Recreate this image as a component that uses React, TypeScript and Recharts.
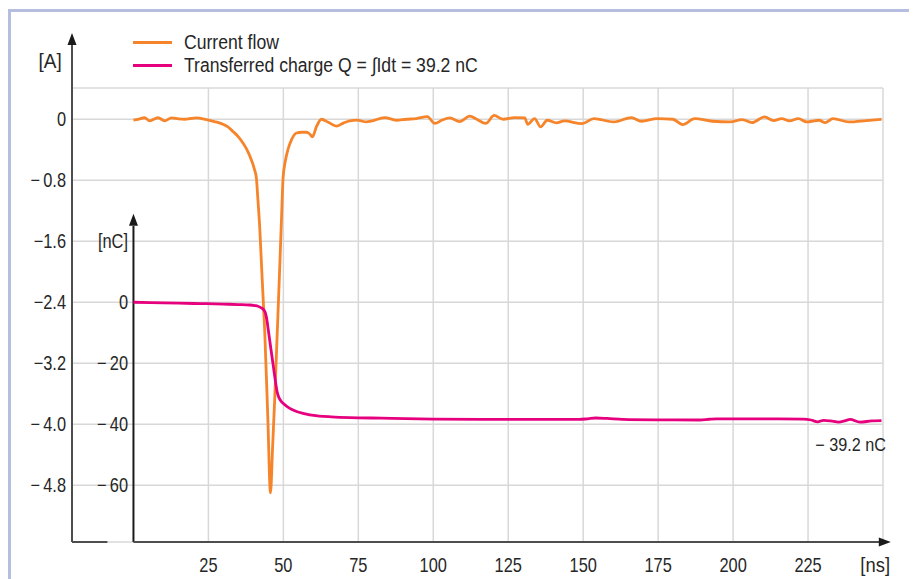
import React from 'react';
import {
  LineChart,
  Line,
  XAxis,
  YAxis,
  CartesianGrid,
  ReferenceLine,
  ReferenceDot,
  Legend,
} from 'recharts';

// ---------- data ----------
const currentTime = [
  0, 1.5, 3.7, 5.4, 8.2, 10.4, 12.7, 15, 17.1, 19, 21, 24.3, 27, 29.5, 31.5, 33.2, 35, 36.5, 38, 39.3,
  40.3, 41.0, 41.45, 42.1, 42.95, 43.8, 44.8, 45.7, 46.4, 47.1, 47.95, 48.8, 49.35, 49.9, 50.6, 51.5,
  52.7, 54.4, 56.1, 57.7, 58.7, 59.7, 61, 62.7, 65, 67.7, 70, 72.1, 74.5, 77.7, 79.2, 83.8, 87.7, 91,
  94.3, 98, 100.5, 103, 105.5, 108.8, 112.2, 114.5, 117.5, 120.3, 123.3, 127.2, 130.5, 131.5, 133.8,
  135.8, 138, 141.1, 143.7, 149.6, 153.6, 160.2, 166.1, 169.4, 174.7, 179.9, 183.2, 187.2, 193.1,
  199.1, 203, 206.3, 210.5, 213.5, 216.2, 218.8, 221.8, 224.5, 228.7, 230.7, 233.3, 238.6, 244.5, 249.5,
];
const currentAmps = [
  -0.01, 0.0, 0.02, -0.02, 0.02, -0.02, 0.017, 0.005, 0.0, 0.01, 0.017, -0.005, -0.03, -0.06, -0.1,
  -0.16, -0.23, -0.31, -0.41, -0.53, -0.65, -0.77, -1.02, -1.41, -2.11, -2.8, -3.9, -4.9, -4.31, -3.68,
  -2.81, -1.93, -1.33, -0.77, -0.56, -0.4, -0.27, -0.18, -0.17, -0.17, -0.19, -0.23, -0.1, 0.0, -0.04,
  -0.09, -0.05, -0.02, -0.01, -0.035, -0.026, 0.022, -0.013, 0.0, 0.009, 0.035, -0.055, -0.01, 0.018,
  -0.03, 0.04, 0.0, -0.055, 0.05, 0.0, 0.022, 0.017, -0.066, 0.009, -0.1, -0.013, -0.048, -0.022,
  -0.057, 0.009, -0.035, 0.022, -0.026, 0.009, 0.0, -0.07, 0.009, -0.026, -0.035, -0.004, -0.044, 0.031,
  -0.017, 0.009, -0.022, 0.009, -0.035, -0.013, -0.044, 0.009, -0.035, -0.017, 0.0,
];

const chargeTime = [
  0, 10, 20, 24.3, 30, 35, 38.8, 40.5, 41.5, 42.5, 43.3, 44.0, 44.4, 45.0, 45.8, 46.6, 47.4, 47.9,
  48.4, 49.2, 49.9, 52, 54.4, 56.5, 58.8, 62, 66, 72.1, 82.7, 100, 125, 148.6, 151.5, 154.2, 158,
  163.2, 175, 188.9, 192, 194.5, 200, 212, 223.5, 226, 228.2, 230.2, 232.5, 235.2, 237.5, 239, 242.3,
  246.2, 249.5,
];
const chargeNC = [
  0, -0.2, -0.4, -0.46, -0.6, -0.75, -0.89, -1.1, -1.3, -1.75, -2.3, -3.5, -5.2, -9.3, -15, -20.6,
  -26.2, -29.3, -31.0, -32.4, -33.1, -34.7, -35.8, -36.4, -36.9, -37.3, -37.55, -37.8, -38.0, -38.3,
  -38.4, -38.4, -38.2, -37.95, -38.1, -38.4, -38.55, -38.6, -38.35, -38.2, -38.2, -38.25, -38.3, -38.6,
  -39.2, -38.7, -38.9, -39.3, -38.8, -38.4, -39.3, -38.9, -38.8,
];

const seriesNames = ['Current flow', 'Transferred charge Q = \u222BIdt = 39.2 nC'];

const xTicks = [25, 50, 75, 100, 125, 150, 175, 200, 225];
const aTicks = [0, -0.8, -1.6, -2.4, -3.2, -4.0, -4.8];
const aTickLabels = ['0', '\u2212\u20090.8', '\u22121.6', '\u22122.4', '\u22123.2', '\u2212\u20094.0', '\u2212\u20094.8'];
const nCTicks = [20, 0, -20, -40, -60];
const nCTickLabels = ['[nC]', '0', '\u2212\u200920', '\u2212\u200940', '\u2212\u200960'];
const finalChargeLabel = '\u2212 39.2 nC';
const axisUnits = { x: '[ns]', a: '[A]' };

// axis domains (the nC axis is aligned so that 0 nC sits on the -2.4 A grid line)
const X_DOMAIN: [number, number] = [-20.5, 250];
const A_DOMAIN: [number, number] = [-5.544, 0.41];
const NC_DOMAIN: [number, number] = [-78.6, 70.25];

// axis decoration extents in data units
const A_AXIS_TOP = 1.0;
const A_ARROW_TIP = 1.132;
const NC_AXIS_TOP = 25;
const NC_ARROW_TIP = 29;
const X_AXIS_END = 249;
const X_ARROW_TIP = 252.6;
const STUB_END = -8.7;

const currentData = currentTime.map((t, i) => ({ t, v: currentAmps[i] }));
const chargeData = chargeTime.map((t, i) => ({ t, q: chargeNC[i] }));

// ---------- styles ----------
const FONT = "'Liberation Sans', Arial, sans-serif";
const NARROW = 0.82;
const TEXT = '#262626';
const ORANGE = '#F6842A';
const MAGENTA = '#E6007E';
const GRID = '#d8d8d8';
const AXIS = '#4d4d4d';
const ARROW = '#1a1a1a';

const CText = ({ x, y, anchor, dy = '0.35em', size = 20, sx = NARROW, children }: any) => (
  <text
    transform={`translate(${x},${y}) scale(${sx},1)`}
    textAnchor={anchor}
    dy={dy}
    fontFamily={FONT}
    fontSize={size}
    fill={TEXT}
  >
    {children}
  </text>
);

const ArrowUp = (props: any) => {
  const { cx, cy } = props;
  return <path d={`M${cx},${cy} L${cx - 4.5},${cy + 12} L${cx + 4.5},${cy + 12} Z`} fill={ARROW} />;
};
const ArrowRight = (props: any) => {
  const { cx, cy } = props;
  return <path d={`M${cx},${cy} L${cx - 12},${cy - 4.5} L${cx - 12},${cy + 4.5} Z`} fill={ARROW} />;
};
const Nothing = () => <g />;

const renderLegend = (props: any) => {
  const { payload } = props;
  return (
    <div style={{ fontFamily: FONT, fontSize: 20, color: TEXT }}>
      {(payload || []).map((entry: any, i: number) => (
        <div key={i} style={{ display: 'flex', alignItems: 'center', height: 22.5, whiteSpace: 'nowrap' }}>
          <span style={{ display: 'inline-block', width: 39, height: 3, background: entry.color, marginRight: 12.6 }} />
          <span style={{ display: 'inline-block', transform: 'scaleX(0.88)', transformOrigin: 'left center' }}>
            {entry.value}
          </span>
        </div>
      ))}
    </div>
  );
};

export default function App() {
  return (
    <div style={{ position: 'relative', width: 907, height: 571 }}>
      <style>{'body{overflow:hidden;}'}</style>
      <LineChart
        width={907}
        height={571}
        margin={{ top: 80, right: 32, bottom: 0, left: 0 }}
        style={{ background: '#fff' }}
      >
        <CartesianGrid yAxisId="A" stroke={GRID} strokeWidth={1.5} />
        <XAxis
          type="number"
          dataKey="t"
          domain={X_DOMAIN}
          allowDataOverflow
          ticks={xTicks}
          height={37}
          axisLine={false}
          tickLine={false}
          tickSize={0}
          tickMargin={15.3}
          tick={(p: any) => (
            <CText x={p.x} y={p.y} anchor="middle" dy="0.71em">
              {p.payload.value}
            </CText>
          )}
          label={(p: any) => {
            const vb = p.viewBox;
            return (
              <CText x={vb.x + vb.width + 7} y={vb.y + 22.5} anchor="end" sx={0.92}>
                {axisUnits.x}
              </CText>
            );
          }}
        />
        <YAxis
          yAxisId="nC"
          orientation="left"
          mirror
          domain={NC_DOMAIN}
          allowDataOverflow
          ticks={nCTicks}
          axisLine={false}
          tickLine={false}
          tickSize={0}
          tickMargin={56}
          tick={(p: any) => (
            <CText x={p.x} y={p.y} anchor="end">
              {nCTickLabels[nCTicks.indexOf(p.payload.value)] ?? ''}
            </CText>
          )}
        />
        <YAxis
          yAxisId="A"
          orientation="left"
          width={64}
          domain={A_DOMAIN}
          allowDataOverflow
          ticks={aTicks}
          axisLine={false}
          tickLine={false}
          tickSize={0}
          tickMargin={6}
          tick={(p: any) => (
            <CText x={p.x} y={p.y} anchor="end">
              {aTickLabels[aTicks.indexOf(p.payload.value)] ?? ''}
            </CText>
          )}
          label={(p: any) => {
            const vb = p.viewBox;
            return (
              <CText x={vb.x + vb.width - 10.3} y={vb.y - 27.3} anchor="end" sx={0.95}>
                {axisUnits.a}
              </CText>
            );
          }}
        />

        {/* axis lines and arrows */}
        <ReferenceLine
          yAxisId="A"
          ifOverflow="visible"
          segment={[{ x: X_DOMAIN[0], y: A_DOMAIN[0] }, { x: X_DOMAIN[0], y: A_AXIS_TOP }]}
          stroke={AXIS}
          strokeWidth={2}
        />
        <ReferenceLine
          yAxisId="A"
          ifOverflow="visible"
          segment={[{ x: X_DOMAIN[0], y: A_DOMAIN[0] }, { x: STUB_END, y: A_DOMAIN[0] }]}
          stroke={AXIS}
          strokeWidth={2}
        />
        <ReferenceLine
          yAxisId="nC"
          ifOverflow="visible"
          segment={[{ x: 0, y: NC_DOMAIN[0] }, { x: 0, y: NC_AXIS_TOP }]}
          stroke={ARROW}
          strokeWidth={2}
        />
        <ReferenceLine
          yAxisId="nC"
          ifOverflow="visible"
          segment={[{ x: 0, y: NC_DOMAIN[0] }, { x: X_AXIS_END, y: NC_DOMAIN[0] }]}
          stroke={AXIS}
          strokeWidth={2}
        />
        <ReferenceDot yAxisId="A" ifOverflow="visible" x={X_DOMAIN[0]} y={A_ARROW_TIP} r={0} shape={ArrowUp} />
        <ReferenceDot yAxisId="nC" ifOverflow="visible" x={0} y={NC_ARROW_TIP} r={0} shape={ArrowUp} />
        <ReferenceDot yAxisId="nC" ifOverflow="visible" x={X_ARROW_TIP} y={NC_DOMAIN[0]} r={0} shape={ArrowRight} />

        <Line
          yAxisId="A"
          data={currentData}
          dataKey="v"
          name={seriesNames[0]}
          type="monotone"
          stroke={ORANGE}
          strokeWidth={2.8}
          dot={false}
          isAnimationActive={false}
        />
        <Line
          yAxisId="nC"
          data={chargeData}
          dataKey="q"
          name={seriesNames[1]}
          type="monotone"
          stroke={MAGENTA}
          strokeWidth={2.8}
          dot={false}
          isAnimationActive={false}
        />

        <ReferenceDot
          yAxisId="nC"
          ifOverflow="visible"
          x={chargeTime[chargeTime.length - 1]}
          y={chargeNC[chargeNC.length - 1]}
          r={0}
          shape={Nothing}
          label={(p: any) => {
            const vb = p.viewBox;
            return (
              <CText x={vb.x + 4.5} y={vb.y + 24} anchor="end" size={18} sx={0.9}>
                {finalChargeLabel}
              </CText>
            );
          }}
        />

        <Legend
          layout="horizontal"
          verticalAlign="middle"
          align="center"
          content={renderLegend}
          wrapperStyle={{ left: 124.7, top: 23.5, width: 'auto', height: 'auto' }}
        />
      </LineChart>
      <div
        style={{
          position: 'absolute',
          left: 0,
          top: 1,
          width: 906,
          height: 600,
          boxSizing: 'border-box',
          border: '3px solid #b6bee0',
          borderBottom: 'none',
          pointerEvents: 'none',
        }}
      />
    </div>
  );
}
